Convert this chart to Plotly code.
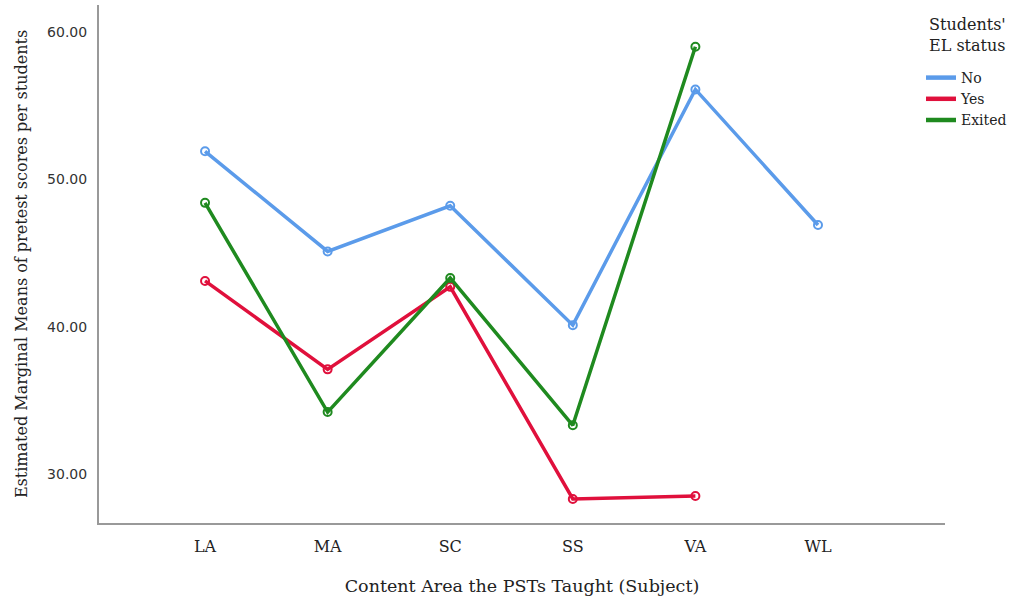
import plotly.graph_objects as go

subjects = ["LA", "MA", "SC", "SS", "VA", "WL"]
no_vals = [51.9, 45.1, 48.2, 40.1, 56.1, 46.9]
yes_vals = [43.1, 37.1, 42.7, 28.3, 28.5, None]
exited_vals = [48.4, 34.2, 43.3, 33.3, 59.0, None]

series = [
    ("No", no_vals, "#5b9bea"),
    ("Yes", yes_vals, "#e0103c"),
    ("Exited", exited_vals, "#1f8a1f"),
]

SERIF = "DejaVu Serif"

fig = go.Figure()
for name, vals, color in series:
    xs = [s for s, v in zip(subjects, vals) if v is not None]
    ys = [v for v in vals if v is not None]
    fig.add_trace(go.Scatter(
        x=xs, y=ys, name=name, mode="lines+markers", showlegend=False,
        line=dict(color=color, width=3.5),
        marker=dict(symbol="circle-open", size=8, color=color, line=dict(width=2)),
    ))
for name, vals, color in series:
    fig.add_trace(go.Scatter(
        x=[None], y=[None], name=name, mode="lines",
        line=dict(color=color, width=4.5),
    ))

fig.add_annotation(
    text="Students'<br>EL status", xref="paper", yref="paper",
    x=(927 - 99) / 846, y=1 - (13 - 5) / 518, xanchor="left", yanchor="top",
    showarrow=False, align="left",
    font=dict(family=SERIF, size=16, color="#222"),
)

fig.update_layout(
    width=1017, height=602,
    margin=dict(l=99, r=72, t=5, b=79, autoexpand=False),
    plot_bgcolor="white", paper_bgcolor="white",
    font=dict(family=SERIF, color="#222"),
    legend=dict(
        font=dict(family=SERIF, size=14),
        x=(921 - 99) / 846, y=1 - (62 - 5) / 518, xanchor="left", yanchor="top",
        bgcolor="rgba(0,0,0,0)", tracegroupgap=0,
    ),
    xaxis=dict(
        type="category", categoryorder="array", categoryarray=subjects,
        range=[-0.865, 6.036], automargin=False,
        showline=True, linecolor="#999", linewidth=2, showgrid=False, ticks="",
        tickfont=dict(family=SERIF, size=16),
        ticklabelstandoff=8,
        title=dict(text="Content Area the PSTs Taught (Subject)",
                   font=dict(family=SERIF, size=17.5), standoff=25),
    ),
    yaxis=dict(
        range=[26.67, 61.83], tickvals=[30, 40, 50, 60], tickformat=".2f",
        automargin=False,
        showline=True, linecolor="#999", linewidth=2, showgrid=False, ticks="",
        zeroline=False,
        tickfont=dict(family="DejaVu Sans", size=14, color="#333"),
        title=dict(text="Estimated Marginal Means of pretest scores per students",
                   font=dict(family=SERIF, size=16), standoff=16),
        ticklabelstandoff=7,
    ),
)

fig.write_html("out.html", config={"displayModeBar": False},
               post_script="document.body.style.margin='0';")
